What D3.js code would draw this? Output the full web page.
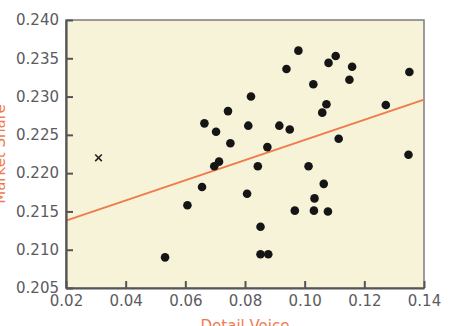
<!DOCTYPE html>
<html>
<head>
<meta charset="utf-8">
<script src="https://cdn.jsdelivr.net/npm/d3@7"></script>
<style>
  body { margin: 0; background: #fff; }
  svg { display: block; }
  .tick text { font-family: "DejaVu Sans", sans-serif; font-size: 15px; fill: #5b5b60; }
</style>
</head>
<body>
<div id="chart"></div>
<script>
// values
const xTicks = [0.02, 0.04, 0.06, 0.08, 0.10, 0.12, 0.14];
const yTicks = [0.205, 0.210, 0.215, 0.220, 0.225, 0.230, 0.235, 0.240];

const detailVoice = [0.0532, 0.0607, 0.0656, 0.0664, 0.0697, 0.0713, 0.0703, 0.0743, 0.0751, 0.0807,
  0.0811, 0.0820, 0.0843, 0.0852, 0.0852, 0.0878, 0.0875, 0.0915, 0.0950, 0.0939,
  0.0967, 0.0979, 0.1013, 0.1029, 0.1033, 0.1031, 0.1059, 0.1073, 0.1064, 0.1078,
  0.1080, 0.1104, 0.1114, 0.1150, 0.1159, 0.1272, 0.1348, 0.1351];
const marketShare = [0.2090, 0.2158, 0.2182, 0.2265, 0.2209, 0.2215, 0.2254, 0.2281, 0.2239, 0.2173,
  0.2262, 0.2300, 0.2209, 0.2130, 0.2094, 0.2094, 0.2234, 0.2262, 0.2257, 0.2336,
  0.2151, 0.2360, 0.2209, 0.2316, 0.2167, 0.2151, 0.2279, 0.2290, 0.2186, 0.2150,
  0.2344, 0.2353, 0.2245, 0.2322, 0.2339, 0.2289, 0.2224, 0.2332];

const outlier = [0.0309, 0.2220];
const trendX = [0.02, 0.14];
const trendY = [0.2138, 0.2296];

const width = 455, height = 326;
const margin = { top: 20, right: 30, bottom: 38, left: 66 };
const orange = '#f07a4c';

const svg = d3.select('#chart')
  .append('svg')
  .attr('width', width)
  .attr('height', height);

const x = d3.scaleLinear()
  .domain([0.02, 0.14])
  .range([margin.left, width - margin.right - 1]);

const y = d3.scaleLinear()
  .domain([0.205, 0.240])
  .range([height - margin.bottom, margin.top]);

// plot background + frame
svg.append('rect')
  .attr('x', x(0.02))
  .attr('y', y(0.240))
  .attr('width', x(0.14) - x(0.02))
  .attr('height', y(0.205) - y(0.240))
  .attr('fill', '#f7f3d9')
  .attr('stroke', '#7c7c7c')
  .attr('stroke-width', 1.5);

// trend line
svg.append('line')
  .attr('x1', x(trendX[0])).attr('y1', y(trendY[0]))
  .attr('x2', x(trendX[1])).attr('y2', y(trendY[1]))
  .attr('stroke', orange)
  .attr('stroke-width', 2);

// points
svg.selectAll('circle.pt')
  .data(detailVoice)
  .enter()
  .append('circle')
  .attr('class', 'pt')
  .attr('cx', d => x(d))
  .attr('cy', (d, i) => y(marketShare[i]))
  .attr('r', 4.3)
  .attr('fill', '#151515');

svg.append('path')
  .attr('d', d3.symbol(d3.symbolTimes, 30)())
  .attr('transform', `translate(${x(outlier[0])},${y(outlier[1])})`)
  .attr('fill', 'none')
  .attr('stroke', '#222')
  .attr('stroke-width', 1.6);

// axes
const xAxis = svg.append('g')
  .attr('transform', `translate(0,${y(0.205)})`)
  .call(d3.axisBottom(x).tickValues(xTicks).tickFormat(d3.format('.2f'))
    .tickSize(-7).tickSizeOuter(0).tickPadding(7));

const yAxis = svg.append('g')
  .attr('transform', `translate(${x(0.02)},0)`)
  .call(d3.axisLeft(y).tickValues(yTicks).tickFormat(d3.format('.3f'))
    .tickSize(-7).tickSizeOuter(0).tickPadding(7));

[xAxis, yAxis].forEach(g => {
  g.select('.domain').attr('stroke', '#555').attr('stroke-width', 2.2);
  g.selectAll('.tick line').attr('stroke', '#555').attr('stroke-width', 2);
});

// axis titles (cut by the picture edge)
svg.append('text')
  .attr('x', 245)
  .attr('y', 331)
  .attr('text-anchor', 'middle')
  .attr('font-family', '"DejaVu Sans", sans-serif')
  .attr('font-size', 15)
  .attr('fill', orange)
  .text('Detail Voice');

svg.append('text')
  .attr('transform', `translate(5,${(y(0.205) + y(0.240)) / 2}) rotate(-90)`)
  .attr('text-anchor', 'middle')
  .attr('font-family', '"DejaVu Sans", sans-serif')
  .attr('font-size', 15)
  .attr('fill', orange)
  .text('Market Share');
</script>
</body>
</html>
